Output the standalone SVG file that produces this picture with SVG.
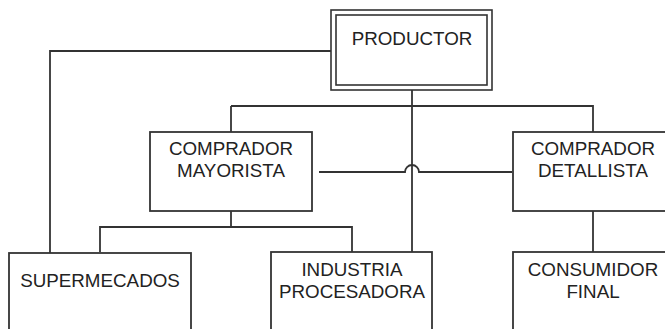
<svg xmlns="http://www.w3.org/2000/svg" width="665" height="329" viewBox="0 0 665 329">
<style>
.box{fill:#fff;stroke:#333;stroke-width:1.8}
.dbl{fill:none;stroke:#333;stroke-width:1.6}
.ln{fill:none;stroke:#333;stroke-width:1.8}
.t{font-family:"Liberation Sans",Arial,sans-serif;font-size:18.8px;fill:#222;text-anchor:middle}
</style>
<rect width="665" height="329" fill="#fff"/>
<g id="connectors">
<path class="ln" d="M331,51 H50 V256"/>
<path class="ln" d="M412,90 V252"/>
<path class="ln" d="M231,106 H593 V132"/>
<path class="ln" d="M231,106 V132"/>
<path class="ln" d="M231,211 V227"/>
<path class="ln" d="M100,252 V227 H352 V252"/>
<path class="ln" d="M593,211 V252"/>
<path class="ln" d="M319,172 H405 A7,7 0 0 1 419,172 H512"/>
</g>
<g id="productor">
<rect class="box" x="331" y="10" width="161" height="80" style="stroke:none"/>
<rect class="dbl" x="331" y="10" width="161" height="80"/>
<rect class="dbl" x="336" y="15" width="151" height="70"/>
<text class="t" x="412" y="45">PRODUCTOR</text>
</g>
<g id="mayorista">
<rect class="box" x="150" y="132" width="162" height="79"/>
<text class="t" x="231" y="155">COMPRADOR</text>
<text class="t" x="231" y="177">MAYORISTA</text>
</g>
<g id="detallista">
<rect class="box" x="513" y="132" width="162" height="79"/>
<text class="t" x="593" y="155">COMPRADOR</text>
<text class="t" x="593" y="177">DETALLISTA</text>
</g>
<g id="supermercados">
<rect class="box" x="9" y="253" width="182" height="90"/>
<text class="t" x="100" y="287">SUPERMECADOS</text>
</g>
<g id="industria">
<rect class="box" x="271" y="252" width="161" height="90"/>
<text class="t" x="352" y="276">INDUSTRIA</text>
<text class="t" x="352" y="298">PROCESADORA</text>
</g>
<g id="consumidor">
<rect class="box" x="513" y="252" width="162" height="90"/>
<text class="t" x="593" y="276">CONSUMIDOR</text>
<text class="t" x="593" y="298">FINAL</text>
</g>
</svg>
